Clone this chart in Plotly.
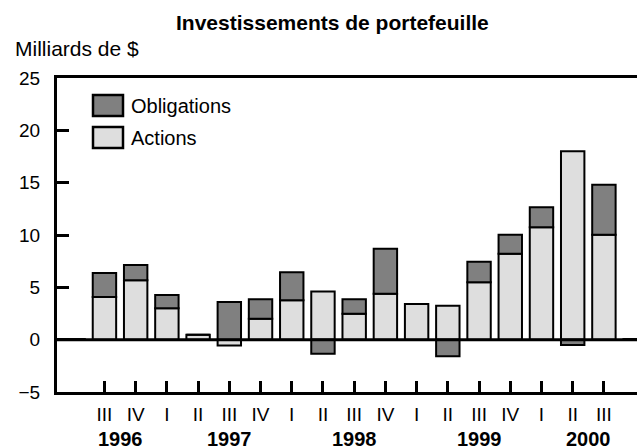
import plotly.graph_objects as go

# ---- data ----
quarter_labels = ["", "III", "IV", "I", "II", "III", "IV", "I", "II", "III", "IV",
                  "I", "II", "III", "IV", "I", "II", "III", ""]
years = ["1996", "1997", "1998", "1999", "2000"]
year_label_pos = [0.5, 4, 8, 12, 15.5]
actions = [0.05, 4.08, 5.67, 2.99, 0.48, -0.55, 2.0, 3.76, 4.59, 2.48, 4.39,
           3.41, 3.25, 5.48, 8.22, 10.73, 17.99, 10.03, 0.05]
obligations = [0, 2.29, 1.46, 1.28, 0, 3.6, 1.85, 2.67, -1.34, 1.37, 4.3,
               0, -1.59, 1.97, 1.81, 1.91, -0.5, 4.77, 0]

x = [i - 1 for i in range(len(quarter_labels))]
labelled = [xi for xi, q in zip(x, quarter_labels) if q]
labels = [q for q in quarter_labels if q]
q1_pos = [xi for xi, q in zip(x, quarter_labels) if q == "I"]

FONT = "Liberation Sans, Arial, sans-serif"
C_OBL = "#808080"
C_ACT = "#dedede"
XR = [-1.52, 17.06]

W, H = 637, 448
ML, MR, MT, MB = 57, 0, 78, 56
PW, PH = W - ML - MR, H - MT - MB


def px(v):
    return (v - ML) / PW


def py(v):
    return (H - MB - v) / PH


fig = go.Figure()
fig.add_trace(go.Bar(x=x, y=actions, name="Actions", width=0.75,
                     marker=dict(color=C_ACT, line=dict(color="black", width=2))))
fig.add_trace(go.Bar(x=x, y=obligations, name="Obligations", width=0.75,
                     marker=dict(color=C_OBL, line=dict(color="black", width=2))))

fig.update_layout(
    width=W, height=H,
    margin=dict(l=ML, r=MR, t=MT, b=MB),
    barmode="relative",
    showlegend=False,
    plot_bgcolor="white", paper_bgcolor="white",
    font=dict(family=FONT, size=19, color="black"),
    xaxis=dict(range=XR, tickmode="array", tickvals=labelled, ticktext=labels,
               ticks="inside", ticklen=11, tickwidth=3, tickcolor="black",
               showline=True, linewidth=3, linecolor="black", mirror=True,
               showgrid=False, zeroline=False, ticklabelstandoff=3,
               tickfont=dict(size=19)),
    xaxis2=dict(range=XR, overlaying="x", anchor="y", side="bottom",
                tickmode="array", tickvals=q1_pos, ticks="inside", ticklen=20,
                tickwidth=3, tickcolor="black", showticklabels=False,
                showline=False, showgrid=False, zeroline=False),
    yaxis=dict(range=[-5, 25], dtick=5, ticks="inside", ticklen=12, tickwidth=3,
               tickcolor="black", showline=True, linewidth=3, linecolor="black",
               showgrid=False, zeroline=False, ticklabelstandoff=10,
               tickfont=dict(size=19)),
)

# zero reference line
fig.add_shape(type="line", xref="paper", yref="y", x0=0, x1=1, y0=0, y1=0,
              line=dict(color="black", width=3), layer="above")

# year labels
for yr, pos in zip(years, year_label_pos):
    fig.add_annotation(x=pos, xref="x", y=py(439), yref="paper",
                       text="<b>%s</b>" % yr, showarrow=False,
                       font=dict(size=20), xanchor="center", yanchor="middle")

# title and unit label
fig.add_annotation(x=px(332), xref="paper", y=py(23), yref="paper",
                   text="<b>Investissements de portefeuille</b>", showarrow=False,
                   font=dict(size=21), xanchor="center", yanchor="middle")
fig.add_annotation(x=px(13), xref="paper", y=py(49), yref="paper",
                   text="Milliards de $", showarrow=False, font=dict(size=21),
                   xanchor="left", yanchor="middle")

# legend (manual boxes)
legend_items = [("Obligations", C_OBL, 95, 116), ("Actions", C_ACT, 127, 148)]
for name, col, ytop, ybot in legend_items:
    fig.add_shape(type="rect", xref="paper", yref="paper",
                  x0=px(93), x1=px(123), y0=py(ybot), y1=py(ytop),
                  fillcolor=col, line=dict(color="black", width=2.5))
    fig.add_annotation(x=px(129), xref="paper", y=py((ytop + ybot) / 2), yref="paper",
                       text=name, showarrow=False, font=dict(size=20),
                       xanchor="left", yanchor="middle")

fig.write_html("out.html", config={"displayModeBar": False},
               post_script="document.body.style.margin='0';")
